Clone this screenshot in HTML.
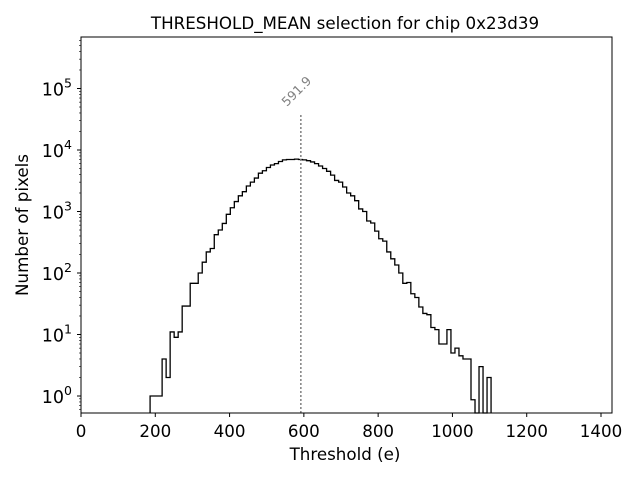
<!DOCTYPE html>
<html><head><meta charset="utf-8"><style>
body{margin:0;background:#fff;}
svg{font-family:"DejaVu Sans","Liberation Sans",sans-serif;}
</style></head><body>
<svg id="c" width="640" height="480" xmlns="http://www.w3.org/2000/svg">
<rect width="640" height="480" fill="#fff"/>
<text x="345" y="29" text-anchor="middle" font-size="16.7">THRESHOLD_MEAN selection for chip 0x23d39</text>
<text x="345" y="460" text-anchor="middle" font-size="16.7">Threshold (e)</text>
<text transform="translate(28,225) rotate(-90)" text-anchor="middle" font-size="16.7">Number of pixels</text>
<g id="marks"></g>
<g id="axes"></g>
</svg>
<script>
const binStart = 186;
const binWidth = 10.8;
const counts = [1,1,1,4,2,11,9,11,29,29,68,68,100,150,220,250,420,500,640,900,1150,1450,1800,2100,2600,3000,3500,4200,4600,5200,5700,6000,6500,6900,7000,7000,7100,7000,6900,6700,6400,6000,5500,5000,4500,3900,3200,3000,2500,2000,1800,1500,1100,1000,700,650,480,360,330,220,170,135,100,68,70,46,40,28,22,21,13,12,7,7,12,5,6,4.5,4,4,0.87,0,3,0,2];
const xTicks = [0,200,400,600,800,1000,1200,1400];
const yDecades = [0,1,2,3,4,5];
const meanValue = 591.9;

const L=81,R=612,T=37,B=413;
const xMin=0,xMax=(R-L)/0.37143;
const logMin=-(B-396)/61.5, logMax=(396-T)/61.5;
function xs(v){return L+(v-xMin)/(xMax-xMin)*(R-L);}
function ys(v){if(v<=0)return B;const l=Math.log10(v);return B-(l-logMin)/(logMax-logMin)*(B-T);}
const NS="http://www.w3.org/2000/svg";
function mk(tag,attrs,parent){const e=document.createElementNS(NS,tag);for(const k in attrs)e.setAttribute(k,attrs[k]);parent.appendChild(e);return e;}
const marks=document.getElementById('marks'), axes=document.getElementById('axes');
let d=`M${xs(binStart)},${B}`;
counts.forEach((c,i)=>{const x0=xs(binStart+i*binWidth),x1=xs(binStart+(i+1)*binWidth);const y=Math.min(ys(c),B);d+=` L${x0},${y} L${x1},${y}`;});
d+=` L${xs(binStart+counts.length*binWidth)},${B}`;
const p=mk('path',{d:d,fill:'none',stroke:'#000','stroke-width':1.3},marks);


const ml=mk('line',{x1:xs(meanValue),x2:xs(meanValue),y1:B,y2:ys(40000),stroke:'#808080','stroke-width':1.5,'stroke-dasharray':'2,2'},marks);


const mt=mk('text',{x:0,y:0,'font-size':12.5,fill:'#808080',transform:`translate(${xs(meanValue)-14},${ys(40000)-6}) rotate(-45)`},marks);
mt.textContent=meanValue.toFixed(1);


const fr=mk('rect',{x:L,y:T,width:R-L,height:B-T,fill:'none',stroke:'#000','stroke-width':1},axes);


xTicks.forEach(t=>{const x=xs(t);mk('line',{x1:x,x2:x,y1:B,y2:B+4,stroke:'#000'},axes);
const tx=mk('text',{x:x,y:B+24,'text-anchor':'middle','font-size':16.7},axes);tx.textContent=t;

});
yDecades.forEach(dd=>{const y=ys(Math.pow(10,dd));mk('line',{x1:L-4,x2:L,y1:y,y2:y,stroke:'#000'},axes);
const tx=mk('text',{x:L-9,y:y+7,'text-anchor':'end','font-size':17.5},axes);
tx.innerHTML=`10<tspan dy="-8" font-size="12.5">${dd}</tspan>`;

});
for(let dd=-1;dd<=5;dd++){for(let m=2;m<=9;m++){const v=m*Math.pow(10,dd);const y=ys(v);if(y<T||y>B)continue;mk('line',{x1:L-2,x2:L,y1:y,y2:y,stroke:'#000','stroke-width':0.6},axes);}}
</script>
</body></html>
